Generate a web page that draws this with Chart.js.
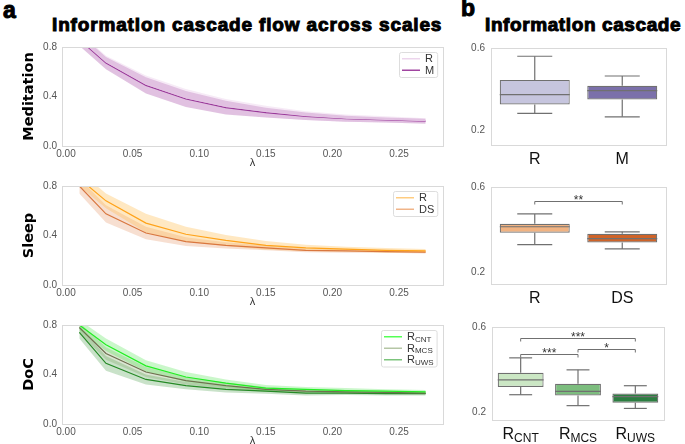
<!DOCTYPE html>
<html>
<head>
<meta charset="utf-8">
<script src="https://cdn.jsdelivr.net/npm/chart.js@4.4.0/dist/chart.umd.min.js"></script>
<style>
  body { margin: 0; width: 685px; height: 444px; overflow: hidden; background: #fff; position: relative;
         font-family: "Liberation Sans", Arial, sans-serif; }
  .c { position: absolute; }
  .t { position: absolute; font-weight: bold; color: #000; white-space: nowrap; -webkit-text-stroke: 1px #000; line-height: 1; }
</style>
</head>
<body>
<div class="t" style="left:3px;top:-1px;font-size:23px">a</div>
<div class="t" style="left:461px;top:-3px;font-size:23px">b</div>
<div class="t" style="left:52px;top:15px;font-size:19px;letter-spacing:0.85px">Information cascade flow across scales</div>
<div class="t" style="left:485px;top:15px;font-size:19px;letter-spacing:0.6px">Information cascade</div>

<div class="c" style="left:0;top:36px"><canvas id="l1" width="450" height="136"></canvas></div>
<div class="c" style="left:0;top:175px"><canvas id="l2" width="450" height="136"></canvas></div>
<div class="c" style="left:0;top:314px"><canvas id="l3" width="450" height="136"></canvas></div>
<div class="c" style="left:450px;top:36px"><canvas id="b1" width="225" height="139"></canvas></div>
<div class="c" style="left:450px;top:175px"><canvas id="b2" width="225" height="139"></canvas></div>
<div class="c" style="left:451px;top:315px"><canvas id="b3" width="222" height="135"></canvas></div>

<script>
// --- dados ---
const lambdas = [0.01, 0.03, 0.06, 0.09, 0.12, 0.15, 0.18, 0.21, 0.24, 0.27];
const xTicks = [0, 0.05, 0.10, 0.15, 0.20, 0.25];
const yTicksLine = [0, 0.4, 0.8];
const yTicksBox = [0.2, 0.6];

// Meditation
const medR    = [0.87, 0.68, 0.50, 0.39, 0.32, 0.28, 0.245, 0.225, 0.215, 0.205];
const medRsd  = [0.05, 0.05, 0.07, 0.07, 0.06, 0.045, 0.035, 0.03, 0.025, 0.02];
const medM    = [0.86, 0.67, 0.49, 0.38, 0.31, 0.27, 0.24, 0.22, 0.21, 0.20];
const medMsd  = [0.05, 0.05, 0.065, 0.065, 0.055, 0.04, 0.03, 0.025, 0.02, 0.02];
// Sleep
const sleepR    = [0.86, 0.68, 0.50, 0.41, 0.36, 0.32, 0.30, 0.29, 0.28, 0.275];
const sleepRsd  = [0.06, 0.06, 0.075, 0.06, 0.045, 0.035, 0.025, 0.02, 0.02, 0.015];
const sleepDS   = [0.80, 0.575, 0.42, 0.35, 0.32, 0.30, 0.28, 0.275, 0.27, 0.265];
const sleepDSsd = [0.06, 0.07, 0.05, 0.035, 0.025, 0.02, 0.015, 0.015, 0.01, 0.01];
// DoC
const docCNT   = [0.80, 0.64, 0.47, 0.38, 0.33, 0.29, 0.28, 0.27, 0.265, 0.26];
const docCNTsd = [0.04, 0.05, 0.045, 0.04, 0.03, 0.025, 0.02, 0.02, 0.015, 0.015];
const docMCS   = [0.78, 0.57, 0.42, 0.35, 0.31, 0.28, 0.265, 0.26, 0.255, 0.25];
const docMCSsd = [0.04, 0.05, 0.04, 0.03, 0.025, 0.02, 0.015, 0.015, 0.012, 0.01];
const docUWS   = [0.74, 0.49, 0.36, 0.31, 0.28, 0.265, 0.25, 0.25, 0.245, 0.245];
const docUWSsd = [0.05, 0.06, 0.04, 0.03, 0.025, 0.02, 0.02, 0.015, 0.015, 0.015];

// Boxplots (min, q1, mediana, q3, max)
const medCats = [['R'], ['M']];
const medBoxMin = [0.283, 0.266], medBoxQ1 = [0.326, 0.350], medBoxMed = [0.374, 0.393], medBoxQ3 = [0.445, 0.417], medBoxMax = [0.560, 0.464];
const sleepCats = [['R'], ['DS']];
const sleepBoxMin = [0.330, 0.310], sleepBoxQ1 = [0.386, 0.340], sleepBoxMed = [0.414, 0.358], sleepBoxQ3 = [0.428, 0.381], sleepBoxMax = [0.474, 0.390];
const docCats = [['R', 'CNT'], ['R', 'MCS'], ['R', 'UWS']];
const docBoxMin = [0.284, 0.233, 0.220], docBoxQ1 = [0.320, 0.280, 0.247], docBoxMed = [0.353, 0.300, 0.275], docBoxQ3 = [0.386, 0.335, 0.290], docBoxMax = [0.456, 0.400, 0.326];
// significância: [i, j, y, rótulo]
const sleepSig = [[0, 1, 0.535, '**']];
const docSig = [[0, 2, 0.549, '***'], [0, 1, 0.474, '***'], [1, 2, 0.498, '*']];

const FONT = '"Liberation Sans", Arial, sans-serif';
const EDGE = '#707070';
Chart.defaults.font.family = FONT;

// moldura cinza em volta da área do gráfico
const frame = {
    id: 'frame',
    afterDatasetsDraw(chart) {
        const a = chart.chartArea, ctx = chart.ctx;
        ctx.save();
        ctx.strokeStyle = '#d9d9d9';
        ctx.lineWidth = 1;
        ctx.strokeRect(Math.round(a.left) + 0.5, Math.round(a.top) + 0.5, Math.round(a.right - a.left), Math.round(a.bottom - a.top));
        ctx.restore();
    }
};

// legenda dentro do gráfico (canto superior direito)
const inLegend = {
    id: 'inLegend',
    afterDraw(chart, args, o) {
        if (!o.items) return;
        const ctx = chart.ctx, a = chart.chartArea;
        ctx.save();
        const widths = o.items.map(it => {
            ctx.font = '11px ' + FONT;
            let w = ctx.measureText(it.text).width;
            if (it.sub) { ctx.font = '8px ' + FONT; w += ctx.measureText(it.sub).width; }
            return w;
        });
        const rowH = 11.5;
        const w = 3 + 18 + 5 + Math.max(...widths) + 3;
        const h = 2 + rowH * o.items.length;
        const x0 = Math.round(a.right - 6 - w), y0 = Math.round(a.top + 5);
        ctx.fillStyle = 'rgba(255,255,255,0.9)';
        ctx.strokeStyle = '#dddddd';
        ctx.lineWidth = 1;
        ctx.beginPath();
        ctx.roundRect(x0 + 0.5, y0 + 0.5, w, h, 2);
        ctx.fill();
        ctx.stroke();
        o.items.forEach((it, i) => {
            const cy = y0 + 1 + rowH * (i + 0.5);
            ctx.strokeStyle = it.color;
            ctx.lineWidth = 1.5;
            ctx.beginPath();
            ctx.moveTo(x0 + 3, cy);
            ctx.lineTo(x0 + 21, cy);
            ctx.stroke();
            ctx.fillStyle = '#333';
            ctx.textBaseline = 'middle';
            ctx.textAlign = 'left';
            ctx.font = '11px ' + FONT;
            ctx.fillText(it.text, x0 + 26, cy + 0.5);
            if (it.sub) {
                const tw = ctx.measureText(it.text).width;
                ctx.font = '8px ' + FONT;
                ctx.fillText(it.sub, x0 + 26 + tw, cy + 3);
            }
        });
        ctx.restore();
    }
};

// bigodes, medianas, barras de significância e rótulos das categorias
const boxExtras = {
    id: 'boxExtras',
    afterDatasetsDraw(chart, args, o) {
        if (!o.med) return;
        const ctx = chart.ctx, y = chart.scales.y, a = chart.chartArea;
        const bars = chart.getDatasetMeta(0).data;
        const seg = (x1, y1, x2, y2) => { ctx.beginPath(); ctx.moveTo(x1, y1); ctx.lineTo(x2, y2); ctx.stroke(); };
        ctx.save();
        ctx.strokeStyle = EDGE;
        ctx.lineWidth = 1.2;
        bars.forEach((bar, i) => {
            const cx = bar.x, hw = bar.width / 2;
            const pm = y.getPixelForValue(o.med[i]);
            seg(cx - hw, pm, cx + hw, pm);
            const p3 = y.getPixelForValue(o.q3[i]), pmax = y.getPixelForValue(o.hi[i]);
            seg(cx, p3, cx, pmax);
            seg(cx - hw / 2, pmax, cx + hw / 2, pmax);
            const p1 = y.getPixelForValue(o.q1[i]), pmin = y.getPixelForValue(o.lo[i]);
            seg(cx, p1, cx, pmin);
            seg(cx - hw / 2, pmin, cx + hw / 2, pmin);
        });
        (o.sig || []).forEach(([i, j, v, lab]) => {
            const x1 = bars[i].x, x2 = bars[j].x, yp = Math.round(y.getPixelForValue(v)) + 0.5;
            ctx.lineWidth = 1;
            ctx.beginPath();
            ctx.moveTo(x1, yp + 3); ctx.lineTo(x1, yp); ctx.lineTo(x2, yp); ctx.lineTo(x2, yp + 3);
            ctx.stroke();
            ctx.fillStyle = '#333';
            ctx.font = '12px ' + FONT;
            ctx.textAlign = 'center';
            ctx.textBaseline = 'alphabetic';
            ctx.fillText(lab, (x1 + x2) / 2, yp + 2);
        });
        ctx.fillStyle = '#111';
        ctx.textBaseline = 'alphabetic';
        ctx.textAlign = 'left';
        o.cats.forEach((c, i) => {
            ctx.font = '16px ' + FONT;
            const w1 = ctx.measureText(c[0]).width;
            let w2 = 0;
            if (c[1]) { ctx.font = '12px ' + FONT; w2 = ctx.measureText(c[1]).width; }
            const x = bars[i].x - (w1 + w2) / 2, base = a.bottom + 18.5;
            ctx.font = '16px ' + FONT;
            ctx.fillText(c[0], x, base);
            if (c[1]) { ctx.font = '12px ' + FONT; ctx.fillText(c[1], x + w1, base + 3); }
        });
        ctx.restore();
    }
};

Chart.register(frame, inLegend, boxExtras);

function bandSets(mean, sd, line, band) {
    const pts = arr => arr.map((v, i) => ({ x: lambdas[i], y: v }));
    return [
        { data: pts(mean.map((v, i) => v - sd[i])), borderWidth: 0, pointRadius: 0, fill: false, order: 2 },
        { data: pts(mean.map((v, i) => v + sd[i])), borderWidth: 0, pointRadius: 0, fill: '-1', backgroundColor: band, order: 2 },
        { data: pts(mean), borderColor: line, borderWidth: 1.2, pointRadius: 0, fill: false, order: 1 }
    ];
}

function lineChart(id, ylabel, datasets, legendItems) {
    new Chart(document.getElementById(id), {
        type: 'line',
        data: { datasets },
        options: {
            responsive: false,
            animation: false,
            layout: { padding: { top: 10, right: 7 } },
            elements: { line: { tension: 0 } },
            plugins: { legend: { display: false }, tooltip: { enabled: false }, inLegend: { items: legendItems } },
            scales: {
                x: {
                    type: 'linear', min: -0.003, max: 0.283,
                    afterBuildTicks: s => { s.ticks = xTicks.map(v => ({ value: v })); },
                    afterFit: s => { s.height = 26; },
                    ticks: { color: '#555', font: { size: 10 }, padding: 2, maxRotation: 0, callback: v => v.toFixed(2) },
                    grid: { display: false, drawTicks: false }, border: { display: false },
                    title: { display: true, text: 'λ', color: '#333', font: { size: 11 }, padding: { top: 0, bottom: 2 } }
                },
                y: {
                    min: 0, max: 0.8,
                    afterBuildTicks: s => { s.ticks = yTicksLine.map(v => ({ value: v })); },
                    afterFit: s => { s.width = 62; },
                    ticks: { color: '#555', font: { size: 10 }, padding: 5, callback: v => v.toFixed(1) },
                    grid: { display: false, drawTicks: false }, border: { display: false },
                    title: { display: true, text: ylabel, color: '#000', font: { family: '"DejaVu Sans", sans-serif', size: 14.5, weight: 'bold' }, padding: { top: 21, bottom: 0 } }
                }
            }
        }
    });
}

function boxChart(id, cats, lo, q1, med, q3, hi, colors, yMin, sig) {
    new Chart(document.getElementById(id), {
        type: 'bar',
        data: {
            labels: cats.map(c => c.join('')),
            datasets: [{
                data: q1.map((v, i) => [v, q3[i]]),
                backgroundColor: colors, borderColor: EDGE, borderWidth: 1.2, borderSkipped: false,
                categoryPercentage: 1, barPercentage: 0.8
            }]
        },
        options: {
            responsive: false,
            animation: false,
            layout: { padding: { top: 10, right: 9, bottom: 30 } },
            plugins: { legend: { display: false }, tooltip: { enabled: false }, boxExtras: { lo, q1, med, q3, hi, sig, cats } },
            scales: {
                x: { display: false },
                y: {
                    min: yMin, max: 0.6,
                    afterBuildTicks: s => { s.ticks = yTicksBox.map(v => ({ value: v })); },
                    afterFit: s => { s.width = 41; },
                    ticks: { color: '#555', font: { size: 10 }, padding: 6, callback: v => v.toFixed(1) },
                    grid: { display: false, drawTicks: false }, border: { display: false }
                }
            }
        }
    });
}

lineChart('l1', 'Meditation', [
    ...bandSets(medR, medRsd, '#e3c3e3', 'rgba(225,185,225,0.30)'),
    ...bandSets(medM, medMsd, '#9a3a9a', 'rgba(154,58,154,0.30)')
], [{ text: 'R', color: '#ecd5ec' }, { text: 'M', color: '#a044a0' }]);

lineChart('l2', 'Sleep', [
    ...bandSets(sleepR, sleepRsd, '#ffa31a', 'rgba(255,190,80,0.35)'),
    ...bandSets(sleepDS, sleepDSsd, '#d9773f', 'rgba(225,140,90,0.28)')
], [{ text: 'R', color: '#ffcc80' }, { text: 'DS', color: '#f0b488' }]);

lineChart('l3', 'DoC', [
    ...bandSets(docCNT, docCNTsd, '#22ee22', 'rgba(80,230,80,0.30)'),
    ...bandSets(docMCS, docMCSsd, '#6f6f4f', 'rgba(110,150,80,0.25)'),
    ...bandSets(docUWS, docUWSsd, '#268a26', 'rgba(40,140,40,0.25)')
], [{ text: 'R', sub: 'CNT', color: '#55ff55' }, { text: 'R', sub: 'MCS', color: '#b5c6a5' }, { text: 'R', sub: 'UWS', color: '#7cc47c' }]);

boxChart('b1', medCats, medBoxMin, medBoxQ1, medBoxMed, medBoxQ3, medBoxMax, ['#c6c5de', '#7b70aa'], 0.129, []);
boxChart('b2', sleepCats, sleepBoxMin, sleepBoxQ1, sleepBoxMed, sleepBoxQ3, sleepBoxMax, ['#f1b382', '#cf6328'], 0.146, sleepSig);
boxChart('b3', docCats, docBoxMin, docBoxQ1, docBoxMed, docBoxQ3, docBoxMax, ['#cbe7c4', '#7cbd7e', '#2c7e41'], 0.166, docSig);
</script>
</body>
</html>
